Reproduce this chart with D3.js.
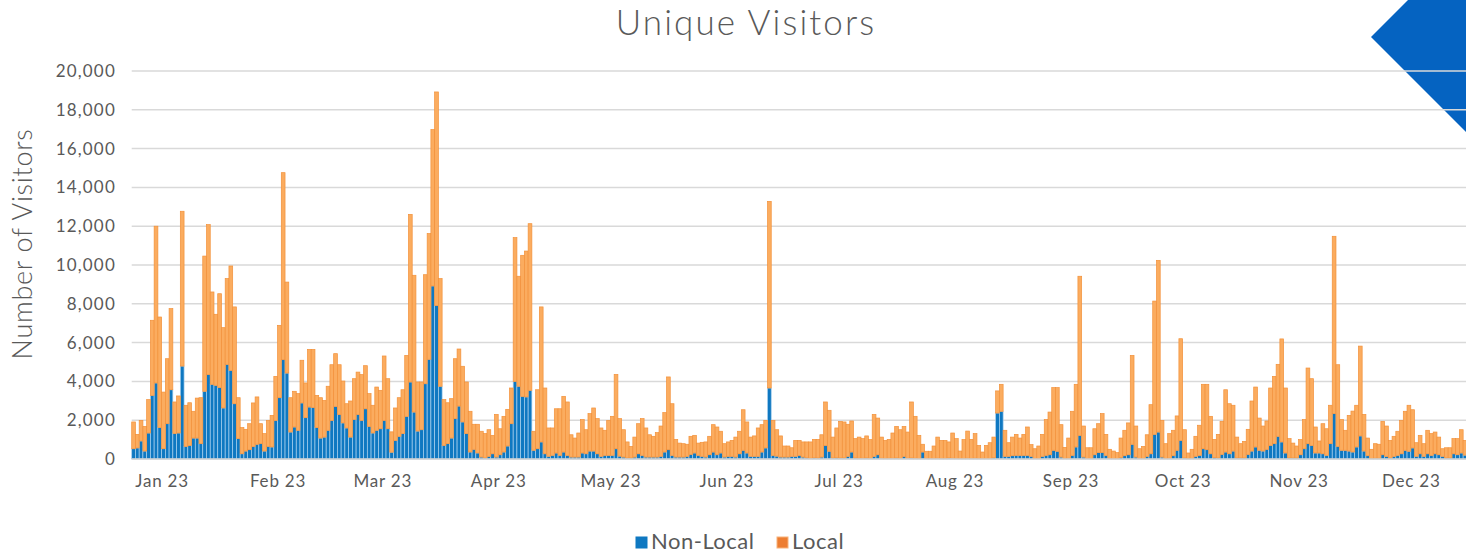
<!DOCTYPE html>
<html>
<head>
<meta charset="utf-8">
<script src="https://cdn.jsdelivr.net/npm/d3@7"></script>
<style>
  html, body { margin: 0; padding: 0; background: #fff; overflow: hidden; }
  svg { display: block; }
  text { font-family: Lato, "Open Sans", sans-serif; fill: #595959; }
</style>
</head>
<body>
<svg id="chart" width="1466" height="555"></svg>
<script>
// ---- data ----
const title = "Unique Visitors";
const yTitle = "Number of Visitors";
const seriesNames = ["Non-Local", "Local"];
const firstDay = "2022-12-24"; // first daily bar
const lastAxisDay = "2023-12-31";
const monthTicks = ["2023-01-01","2023-02-01","2023-03-01","2023-04-01","2023-05-01","2023-06-01",
                    "2023-07-01","2023-08-01","2023-09-01","2023-10-01","2023-11-01","2023-12-01"];
const yTicks = [0,2000,4000,6000,8000,10000,12000,14000,16000,18000,20000];

const nonLocal = [
530,570,930,410,1340,3280,3920,1620,530,1820,3570,1310,1340,4790,650,700,1080,1080,790,3490,
4350,3850,3800,3680,2630,4880,4570,2850,1050,270,410,480,650,760,790,410,650,620,1990,3160,
5120,4430,1390,1650,1480,2890,2130,2680,2650,1620,1080,1130,1480,1990,2710,2290,1860,1600,1130,2040,
2300,1990,2590,1680,1340,1480,1560,1990,1560,350,960,1170,1310,2200,3970,2420,1440,1510,3880,5140,
8920,7920,3750,700,790,1080,2080,2730,1910,1310,360,500,310,100,50,140,270,100,220,360,
670,1820,4000,3750,3230,3200,3540,450,530,880,270,140,190,310,190,360,190,100,100,100,
310,270,410,410,270,140,190,190,190,530,150,100,50,50,100,270,190,100,100,100,
100,140,360,480,190,100,100,100,140,240,310,190,140,100,220,360,220,310,100,140,
140,100,270,450,310,140,140,140,360,570,3660,190,150,100,100,100,140,140,190,100,
60,40,60,50,100,700,400,50,60,50,50,140,360,50,40,40,50,40,140,220,
40,30,40,40,50,40,140,40,50,40,30,360,30,30,30,40,30,30,50,40,
30,20,30,40,30,40,30,20,30,30,60,2370,2460,140,140,170,190,190,190,190,
140,30,30,140,190,220,450,400,100,30,40,190,620,1220,100,30,30,220,330,330,
190,30,30,30,70,170,220,760,100,30,30,140,270,1270,1390,100,30,40,170,450,
960,50,20,30,140,190,530,480,270,70,50,240,360,270,410,50,50,50,240,410,
620,450,410,500,700,790,1170,880,310,50,50,50,220,530,790,700,310,310,270,190,
790,2340,650,450,450,410,360,620,1190,410,170,30,40,40,220,140,50,140,190,270,
450,400,570,140,270,140,270,190,270,220,140,50,50,270,220,310,200
];
const local = [
1380,700,1060,1270,1720,3870,8080,5700,2920,3350,4180,1630,1910,7980,2120,2200,1380,2060,2370,6970,
7730,4760,3660,4840,4140,4420,5380,4990,2110,1350,1120,1340,2240,2440,1030,900,1340,1630,2270,3730,
9640,4690,1770,1840,1890,2200,1790,2970,3000,1660,2080,1890,2270,2870,2720,2570,2160,1250,1860,2100,
2180,2360,2220,1690,1430,2230,1980,3320,2580,1050,1670,1990,2260,3140,8640,7050,2530,2460,5620,6480,
8060,11000,5550,2360,2110,2030,3090,2940,2870,2660,2100,1290,1480,1330,1260,1370,950,2200,1340,1840,
1890,1840,7410,5670,7270,7520,8590,980,3040,6960,3390,1460,1410,2280,2400,2870,2750,1150,980,1240,
1720,1240,1930,2220,1810,1460,1290,1800,2010,3830,1930,1410,830,600,1030,1550,1890,1500,1150,1070,
1260,1560,2030,3750,2660,910,720,690,620,930,910,630,720,780,950,1410,1430,1120,690,740,
820,1030,1160,2090,1600,990,1050,1460,1410,1420,9620,1800,1360,1090,570,570,440,820,770,780,
820,840,950,960,1150,2240,2110,1080,1540,1890,1860,1650,1600,1000,1090,1010,1140,960,2160,1890,
1090,930,970,1300,1630,1470,1540,1350,2890,2160,1190,400,370,370,640,1090,930,930,830,1300,
1020,390,970,1400,980,1270,670,340,670,810,1070,1140,1390,1340,700,960,1080,890,1080,1460,
600,500,640,1130,1840,2200,3230,3280,1670,570,1040,2270,3230,8200,1600,550,550,1340,1490,2010,
1080,470,380,300,1010,1310,1640,4580,1600,500,620,1110,2530,6870,8850,1890,760,1270,1310,1770,
5240,1460,290,470,1030,1550,3320,3370,1930,940,1220,1700,3210,2580,2360,1080,740,860,1290,2580,
3090,1660,1290,1460,2960,3470,3710,5310,3350,1000,770,620,780,1500,3900,3440,1340,620,1550,1370,
1980,9140,4210,1580,1030,1840,2110,2150,4630,1890,910,470,750,720,1720,1560,910,1030,1240,1720,
2010,2370,1970,700,950,650,1210,1120,1120,910,390,530,530,780,830,1200,760
];

// ---- layout ----
const svg = d3.select("#chart");
const W = 1466, H = 555;
const plotLeft = 131.7, pxPerDay = 3.74;
const yTop = 71, yBottom = 459;

const parse = d3.timeParse("%Y-%m-%d");
const start = parse(firstDay);
const dates = nonLocal.map((_, i) => d3.timeDay.offset(start, i));
const halfDay = 12 * 3600 * 1000;
const domainStart = new Date(start.getTime() - halfDay);
const domainEnd = new Date(d3.timeDay.offset(parse(lastAxisDay), 1).getTime() - halfDay);
const nDays = d3.timeDay.count(start, d3.timeDay.offset(parse(lastAxisDay), 1));

const x = d3.scaleTime().domain([domainStart, domainEnd])
  .range([plotLeft, plotLeft + nDays * pxPerDay]);
const y = d3.scaleLinear().domain([0, 20000]).range([yBottom, yTop]);

// decorative corner shape (behind grid)
svg.append("polygon")
  .attr("points", "1408,0 1371,37 1466,132 1466,0")
  .attr("fill", "#0563C1");

// gridlines
svg.append("g").selectAll("line").data(yTicks.filter(d => d > 0)).join("line")
  .attr("x1", plotLeft).attr("x2", W)
  .attr("y1", d => y(d)).attr("y2", d => y(d))
  .attr("stroke", "#d9d9d9").attr("stroke-width", 1.5);

// stacked bars
const rows = dates.map((d, i) => ({ date: d, "Non-Local": nonLocal[i], "Local": local[i] }));
const stack = d3.stack().keys(seriesNames)(rows);
const fills = { "Non-Local": "#0F78C1", "Local": "#FBAC5F" };
const strokes = { "Non-Local": "#A8D0EE", "Local": "#F2913A" };

svg.append("g").selectAll("g").data(stack).join("g")
  .attr("fill", s => fills[s.key])
  .attr("stroke", s => strokes[s.key])
  .attr("stroke-width", 0.7)
  .selectAll("rect").data(s => s).join("rect")
  .attr("x", d => x(new Date(d.data.date.getTime() - halfDay)))
  .attr("width", d => x(new Date(d.data.date.getTime() + halfDay)) - x(new Date(d.data.date.getTime() - halfDay)))
  .attr("y", d => y(d[1]))
  .attr("height", d => Math.max(0, y(d[0]) - y(d[1])));

// baseline
svg.append("line")
  .attr("x1", plotLeft).attr("x2", W)
  .attr("y1", y(0)).attr("y2", y(0))
  .attr("stroke", "#d0d0d0").attr("stroke-width", 1.5);

// y axis labels
const yAxis = d3.axisLeft(y).tickValues(yTicks).tickFormat(d3.format(",")).tickSize(0).tickPadding(0);
const gy = svg.append("g").attr("transform", `translate(116,0)`).call(yAxis);
gy.select(".domain").remove();
gy.selectAll("text").attr("font-size", 17).attr("fill", "#595959")
  .attr("letter-spacing", 1.2)
  .style("font-family", "Lato, 'Open Sans', sans-serif");

// x axis labels (ticks sit at the start of each month's first day)
const xAxis = d3.axisBottom(x).tickValues(monthTicks.map(s => new Date(parse(s).getTime() - halfDay)))
  .tickFormat(d => d3.timeFormat("%b %y")(new Date(d.getTime() + halfDay))).tickSize(0).tickPadding(0);
const gx = svg.append("g").attr("transform", `translate(0,${yBottom + 16})`).call(xAxis);
gx.select(".domain").remove();
gx.selectAll("text").attr("font-size", 17).attr("fill", "#595959")
  .attr("letter-spacing", 0.8)
  .style("font-family", "Lato, 'Open Sans', sans-serif");

// title
svg.append("text").attr("x", 746).attr("y", 35)
  .attr("text-anchor", "middle").attr("font-size", 35).attr("font-weight", 300)
  .attr("letter-spacing", 2.1)
  .text(title);

// y title
svg.append("text").attr("transform", "translate(32,244) rotate(-90)")
  .attr("text-anchor", "middle").attr("font-size", 27).attr("font-weight", 300)
  .attr("letter-spacing", 0.7)
  .text(yTitle);

// legend
const legend = svg.append("g").attr("transform", "translate(636,537)");
const legItems = [
  { name: "Non-Local", x: 0, fill: "#0F78C1", stroke: "#0F78C1" },
  { name: "Local", x: 141, fill: "#ED7D31", stroke: "#F7B27A" }
];
const li = legend.selectAll("g").data(legItems).join("g").attr("transform", d => `translate(${d.x},0)`);
li.append("rect").attr("width", 11).attr("height", 11)
  .attr("fill", d => d.fill).attr("stroke", d => d.stroke).attr("stroke-width", 1);
li.append("text").attr("x", 15).attr("y", 12).attr("font-size", 22)
  .attr("letter-spacing", 0.5).text(d => d.name);
</script>
</body>
</html>
